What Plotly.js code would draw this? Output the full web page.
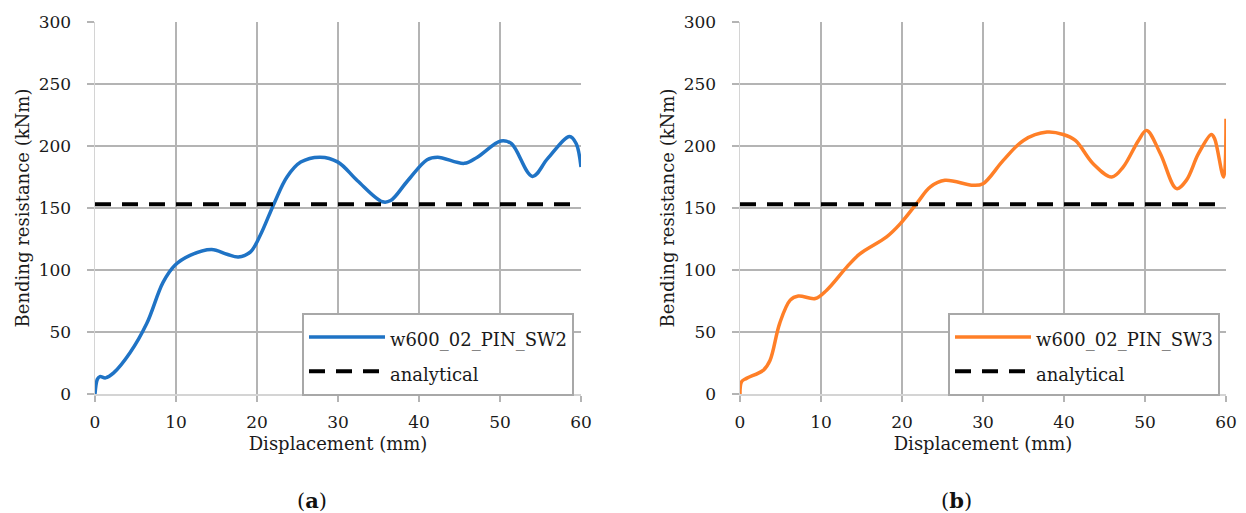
<!DOCTYPE html>
<html>
<head>
<meta charset="utf-8">
<script src="https://cdn.plot.ly/plotly-3.0.1.min.js"></script>
<style>html,body{margin:0;padding:0;background:#fff;}#chart{width:1246px;height:513px;}</style>
</head>
<body>
<div id="chart"></div>
<script>
// ---- data ----
const sw2Name = "w600_02_PIN_SW2";
const sw2X = [0, 0.3, 0.6, 1.3, 2.3, 4.3, 6.4, 8.4, 9.9, 11.8, 14.4, 16.3, 17.7, 19.2, 20.4, 22.1, 23.7, 25.4, 27.8, 30.0, 32.4, 35.5, 36.5, 38.6, 41.0, 42.3, 45.6, 47.2, 50.1, 51.4, 54.0, 55.9, 58.6, 59.4, 60];
const sw2Y = [0, 12, 14, 13, 17, 33, 57, 90, 104, 112, 116.5, 112.7, 110.5, 114.6, 128, 153.5, 175, 187, 191, 187, 172, 155, 156, 172, 189, 191, 186, 191, 204, 202, 175.5, 190, 207.7, 202, 183];

const sw3Name = "w600_02_PIN_SW3";
const sw3X = [0, 0.2, 0.8, 2.9, 3.7, 4.9, 6.2, 7.2, 9.3, 10.7, 13.2, 14.8, 18.1, 19.8, 21.8, 23.5, 25.3, 28.8, 30.0, 32.5, 35.0, 37.9, 39.9, 41.4, 43.6, 45.9, 47.3, 49.2, 50.2, 51.9, 53.9, 55.1, 56.6, 58.2, 58.6, 59.7, 60];
const sw3Y = [0, 10, 12.6, 19.3, 27, 57, 75.7, 79, 77, 83.7, 102.5, 113, 126.7, 137.4, 153.5, 167, 172.3, 168.3, 169.6, 188.4, 204.5, 211.2, 209.3, 204.5, 185.7, 175, 183, 204.5, 212.6, 193.8, 165.6, 172.3, 193.8, 209.3, 205.8, 175, 222];

const analyticalName = "analytical";
const analyticalX = [0, 60];
const analyticalY = [153, 153];

const xTitle = "Displacement (mm)";
const yTitle = "Bending resistance (kNm)";
const panelLabels = ["(<b>a</b>)", "(<b>b</b>)"];

// ---- styling ----
const FONT = "DejaVu Serif, Liberation Serif, serif";
const gridC = "#b4b4b4";
const txtC = "#1a1a1a";

function axisX(domain, anchor) {
  return {
    domain: domain, anchor: anchor, range: [0, 60], dtick: 10, tick0: 0,
    showgrid: true, gridcolor: gridC, gridwidth: 1.5, zeroline: false,
    showline: true, linecolor: "#d4d4d4", linewidth: 1.5,
    ticks: "outside", ticklen: 6, tickcolor: gridC, tickwidth: 1.5,
    ticklabelstandoff: 6,
    tickfont: {family: FONT, size: 17, color: txtC},
    title: {text: xTitle, font: {family: FONT, size: 18, color: txtC}, standoff: 6},
    fixedrange: true
  };
}
function axisY(domain, anchor) {
  return {
    domain: domain, anchor: anchor, range: [0, 300], dtick: 50, tick0: 0,
    showgrid: true, gridcolor: gridC, gridwidth: 1.5, zeroline: false,
    showline: true, linecolor: "#d4d4d4", linewidth: 1.5,
    ticks: "outside", ticklen: 7, tickcolor: gridC, tickwidth: 1.5,
    ticklabelstandoff: 12,
    tickfont: {family: FONT, size: 17, color: txtC},
    title: {text: yTitle, font: {family: FONT, size: 18, color: txtC}, standoff: 4},
    fixedrange: true
  };
}

const LEG_TXT = 18;
function legName(s) { return '<span style="font-size:' + LEG_TXT + 'px">' + s + '</span>'; }

const traces = [
  {x: sw2X, y: sw2Y, name: legName(sw2Name), type: "scatter", mode: "lines",
   line: {color: "#1f73c5", width: 3.5, shape: "spline", smoothing: 1},
   xaxis: "x", yaxis: "y", legend: "legend"},
  {x: analyticalX, y: analyticalY, name: legName(analyticalName), type: "scatter", mode: "lines",
   line: {color: "#000", width: 4, dash: "16px,11px"},
   xaxis: "x", yaxis: "y", legend: "legend"},
  {x: sw3X, y: sw3Y, name: legName(sw3Name), type: "scatter", mode: "lines",
   line: {color: "#ff7f27", width: 3.5, shape: "spline", smoothing: 1},
   xaxis: "x2", yaxis: "y2", legend: "legend2"},
  {x: analyticalX, y: analyticalY, name: legName(analyticalName), type: "scatter", mode: "lines",
   line: {color: "#000", width: 4, dash: "16px,11px"},
   xaxis: "x2", yaxis: "y2", legend: "legend2"}
];

const W = 1246, H = 513;
const yDom = [1 - 394 / H, 1 - 22 / H];
const legendCommon = {
  bgcolor: "#fff", bordercolor: "#a8a8a8", borderwidth: 2,
  font: {family: FONT, size: 24, color: txtC},
  yanchor: "top", xanchor: "right", tracegroupgap: 0, itemwidth: 76
};

const layout = {
  width: W, height: H,
  margin: {l: 0, r: 0, t: 0, b: 0},
  paper_bgcolor: "#fff", plot_bgcolor: "#fff",
  showlegend: true,
  xaxis: axisX([95 / W, 581 / W], "y"),
  yaxis: axisY(yDom, "x"),
  xaxis2: axisX([740 / W, 1226 / W], "y2"),
  yaxis2: axisY(yDom, "x2"),
  legend: Object.assign({}, legendCommon, {x: 574 / W, y: 1 - 313 / H}),
  legend2: Object.assign({}, legendCommon, {x: 1220 / W, y: 1 - 313 / H}),
  annotations: [
    {text: panelLabels[0], xref: "paper", yref: "paper", x: 312 / W, y: 1 - 500 / H,
     xanchor: "center", yanchor: "middle",
     showarrow: false, font: {family: FONT, size: 21, color: "#111"}},
    {text: panelLabels[1], xref: "paper", yref: "paper", x: 956 / W, y: 1 - 500 / H,
     xanchor: "center", yanchor: "middle",
     showarrow: false, font: {family: FONT, size: 21, color: "#111"}}
  ]
};

Plotly.newPlot("chart", traces, layout, {displayModeBar: false, staticPlot: true});
</script>
</body>
</html>
